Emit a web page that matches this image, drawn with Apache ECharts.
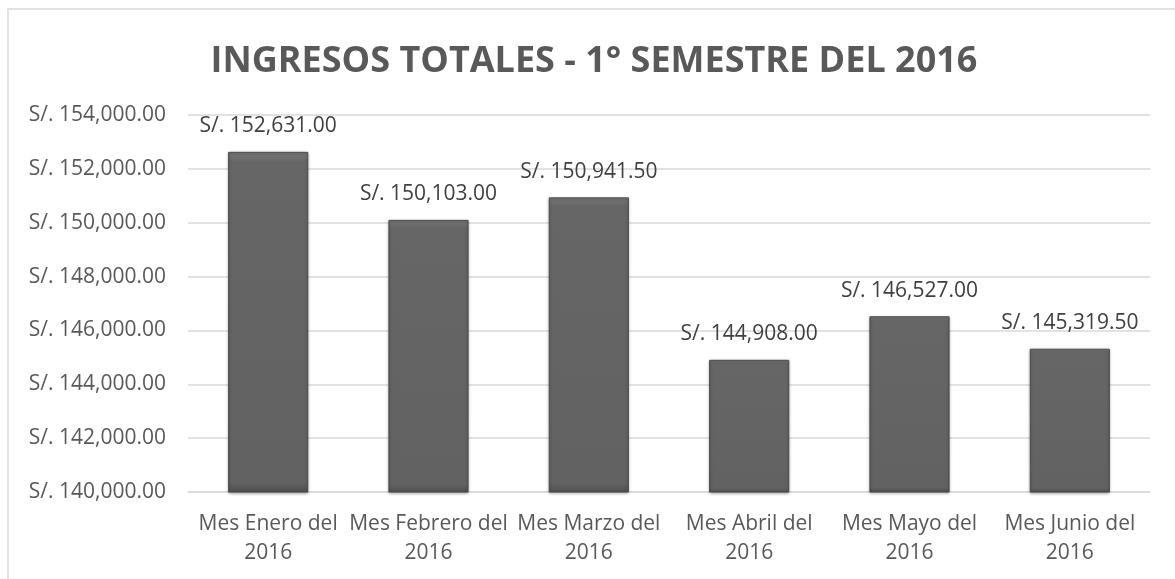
<!DOCTYPE html>
<html>
<head>
<meta charset="utf-8">
<script src="https://cdn.jsdelivr.net/npm/echarts@6/dist/echarts.min.js"></script>
<style>
    * { margin: 0; padding: 0; }
    body { background: #fff; }
    #main { width: 1175px; height: 579px; }
</style>
</head>
<body>
<div id="main"></div>
<script>
    let meses = ['Mes Enero del\n2016', 'Mes Febrero del\n2016', 'Mes Marzo del\n2016', 'Mes Abril del\n2016', 'Mes Mayo del\n2016', 'Mes Junio del\n2016']
    let ingresos = [152631.00, 150103.00, 150941.50, 144908.00, 146527.00, 145319.50]

    function soles(v) {
        return 'S/. ' + v.toLocaleString('en-US', {minimumFractionDigits: 2, maximumFractionDigits: 2})
    }

    let fuente = 'Open Sans'
    let myChart = echarts.init(document.getElementById('main'))
    let option = {
        backgroundColor: '#fff',
        animation: false,
        title: {
            text: 'INGRESOS TOTALES - 1° SEMESTRE DEL 2016',
            left: 589,
            textAlign: 'center',
            top: 39,
            textStyle: {
                color: '#595959',
                fontFamily: fuente,
                fontWeight: 'bold',
                fontSize: 36
            }
        },
        graphic: [{
            type: 'polyline',
            shape: {points: [[8, 579], [8, 9], [1175, 9]]},
            style: {stroke: '#d9d9d9', lineWidth: 1.5, fill: null}
        }],
        grid: {
            left: 188,
            right: 25,
            top: 115,
            bottom: 87
        },
        xAxis: {
            type: 'category',
            data: meses,
            axisLine: {lineStyle: {color: '#d9d9d9', width: 1.5}},
            axisTick: {show: false},
            axisLabel: {
                color: '#595959',
                fontFamily: fuente,
                fontSize: 21,
                lineHeight: 29,
                margin: 18,
                interval: 0
            }
        },
        yAxis: {
            type: 'value',
            min: 140000,
            max: 154000,
            interval: 2000,
            axisLine: {show: false},
            axisTick: {show: false},
            splitLine: {lineStyle: {color: '#d9d9d9', width: 1.5}},
            axisLabel: {
                color: '#595959',
                fontFamily: fuente,
                fontSize: 21,
                margin: 22,
                formatter: function (v) { return soles(v) }
            }
        },
        series: [{
            type: 'bar',
            data: ingresos,
            barWidth: '50%',
            itemStyle: {
                color: {
                    type: 'linear', x: 0, y: 0, x2: 0, y2: 1,
                    colorStops: [
                        {offset: 0, color: '#7a7a7a'},
                        {offset: 0.03, color: '#666'},
                        {offset: 0.97, color: '#626262'},
                        {offset: 1, color: '#4f4f4f'}
                    ]
                },
                borderColor: '#4d4d4d',
                borderWidth: 1,
                shadowColor: 'rgba(0,0,0,0.35)',
                shadowBlur: 3,
                shadowOffsetY: 1
            },
            label: {
                show: true,
                position: 'top',
                distance: 15,
                color: '#404040',
                fontFamily: fuente,
                fontSize: 21,
                formatter: function (p) { return soles(p.value) }
            }
        }]
    }
    myChart.setOption(option)
</script>
</body>
</html>
